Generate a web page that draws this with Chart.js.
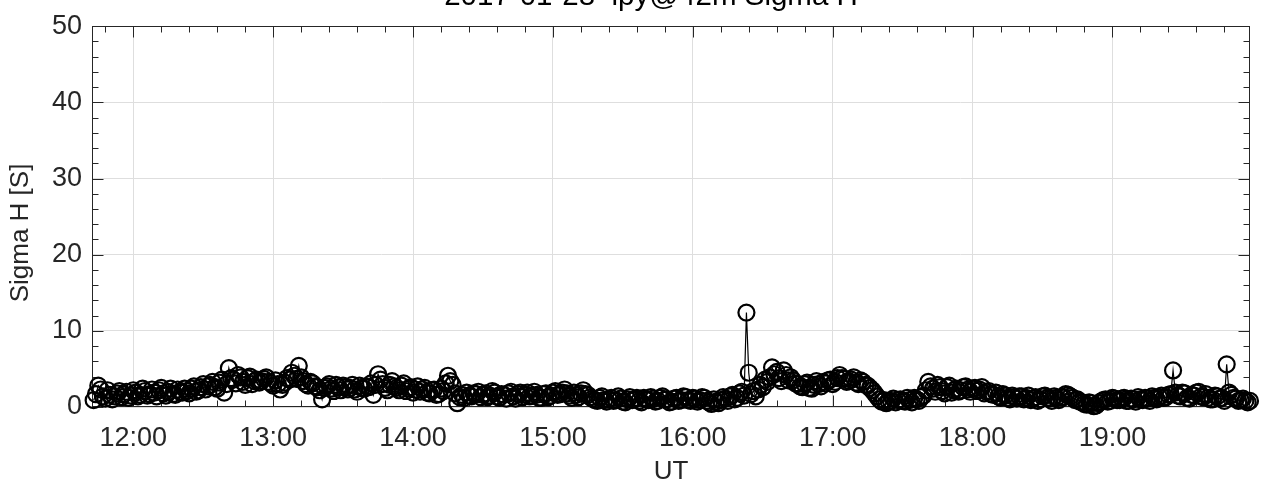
<!DOCTYPE html>
<html><head><meta charset="utf-8">
<script src="https://cdn.jsdelivr.net/npm/chart.js@4.4.0/dist/chart.umd.min.js"></script>
<style>html,body{margin:0;padding:0;background:#fff;}#wrap{width:1261px;height:493px;}</style>
</head><body><div id="wrap"><canvas id="c" width="1261" height="493"></canvas></div>
<script>
const chartTitle = '2017-01-28  lpy@42m Sigma H';
const xAxisLabel = 'UT';
const yAxisLabel = 'Sigma H [S]';

// sampling: first sample 11:43 UT, one sample per minute (minutes since 00:00 UT)
const startMinute = 703;
const sampleStepMinutes = 1;

// Sigma H [S] (20 samples per row = 20 minutes)
const sigmaH = [
  0.9, 1.7, 2.8, 2.3, 1.4, 1.1, 2.2, 1.6, 1.0, 1.4, 1.8, 2.1, 1.3, 1.7, 2.0, 1.2, 1.5, 2.2, 1.9, 1.4,
  1.6, 2.4, 2.1, 1.5, 1.7, 2.3, 1.9, 1.4, 2.2, 2.5, 1.8, 1.5, 2.0, 2.4, 1.7, 1.6, 2.3, 2.0, 1.9, 2.4,
  2.1, 1.8, 2.4, 2.7, 2.0, 2.2, 2.6, 3.0, 2.3, 2.7, 2.9, 3.3, 2.6, 2.4, 3.2, 3.6, 1.9, 3.0, 5.1, 3.8,
  3.6, 3.1, 4.2, 3.9, 3.3, 2.9, 3.8, 4.0, 3.0, 3.4, 3.6, 3.2, 3.4, 3.7, 3.9, 3.3, 3.1, 2.8, 3.5, 3.0,
  2.3, 2.9, 3.2, 3.8, 3.6, 4.5, 4.1, 3.7, 5.4, 3.9, 3.4, 3.0, 2.8, 3.3, 3.1, 2.7, 2.6, 2.2, 1.0, 2.5,
  2.7, 3.0, 2.4, 2.1, 2.9, 2.6, 2.2, 2.8, 2.6, 2.3, 2.5, 2.9, 2.3, 2.0, 2.8, 2.5, 2.4, 2.7, 2.6, 3.1,
  1.6, 2.9, 4.3, 3.6, 3.0, 2.5, 2.2, 2.9, 3.4, 2.7, 2.5, 2.2, 2.8, 3.1, 2.1, 2.4, 2.6, 1.9, 2.3, 2.7,
  2.0, 2.3, 2.5, 1.9, 1.8, 2.2, 2.3, 1.6, 1.7, 2.4, 2.1, 3.1, 4.1, 3.4, 2.9, 1.8, 0.5, 1.3, 1.6, 1.2,
  1.9, 1.5, 1.4, 1.8, 1.7, 2.0, 1.3, 1.6, 1.8, 1.3, 1.5, 2.1, 1.9, 1.4, 1.2, 1.7, 1.6, 1.1, 1.8, 2.0,
  1.4, 1.1, 1.7, 1.9, 1.3, 1.6, 1.9, 1.4, 1.5, 2.0, 1.6, 1.2, 1.2, 1.7, 1.8, 1.3, 1.5, 1.9, 2.1, 1.6,
  1.7, 1.9, 2.3, 1.8, 1.5, 1.2, 1.9, 1.6, 1.3, 1.8, 2.2, 1.7, 1.6, 1.3, 1.1, 0.9, 0.8, 1.2, 1.4, 0.9,
  0.7, 1.0, 1.2, 0.8, 0.9, 1.4, 1.1, 0.7, 0.6, 1.0, 1.3, 0.9, 1.0, 1.2, 0.8, 0.6, 1.2, 1.0, 0.9, 1.3,
  1.1, 0.7, 0.8, 1.2, 1.4, 1.0, 1.0, 0.6, 0.7, 1.1, 1.2, 0.8, 0.9, 1.4, 1.3, 0.9, 0.8, 1.2, 1.1, 0.7,
  0.9, 1.3, 1.2, 0.8, 0.6, 0.4, 1.0, 0.7, 0.5, 0.9, 1.3, 1.1, 0.8, 1.4, 1.6, 1.0, 1.2, 1.8, 2.0, 1.5,
  12.4, 4.5, 1.7, 2.1, 1.4, 2.3, 2.9, 2.6, 3.6, 3.3, 3.9, 5.2, 4.3, 4.6, 3.8, 3.4, 4.8, 4.2, 3.5, 3.9,
  3.5, 3.1, 3.0, 2.7, 2.6, 3.0, 3.2, 2.5, 2.4, 2.9, 3.4, 3.0, 2.7, 3.3, 3.1, 3.5, 3.6, 3.0, 3.3, 3.8,
  4.2, 3.8, 3.7, 3.3, 3.4, 3.6, 3.9, 3.2, 3.0, 3.5, 3.3, 2.9, 2.8, 2.5, 2.2, 1.8, 1.4, 1.0, 0.7, 0.9,
  0.5, 0.7, 0.8, 1.1, 0.6, 0.9, 1.0, 0.8, 0.7, 1.2, 0.9, 0.6, 1.2, 1.0, 0.8, 1.3, 1.5, 2.2, 3.3, 2.7,
  2.4, 2.0, 2.9, 2.6, 2.1, 1.8, 2.6, 2.8, 1.9, 2.2, 2.4, 2.0, 2.2, 2.6, 2.7, 2.3, 2.0, 2.4, 2.5, 2.1,
  2.3, 2.6, 1.8, 2.0, 2.1, 1.7, 1.6, 1.9, 1.4, 1.2, 1.7, 1.5, 1.2, 1.0, 1.5, 1.3, 1.1, 1.4, 1.4, 1.0,
  1.2, 1.5, 0.9, 1.1, 1.3, 0.8, 1.0, 1.4, 1.5, 1.2, 1.1, 0.8, 1.4, 1.2, 0.9, 1.3, 1.3, 1.7, 1.6, 1.4,
  1.2, 0.9, 1.0, 0.7, 0.6, 0.4, 0.3, 0.6, 0.5, 0.1, 0.2, 0.5, 0.7, 0.9, 1.0, 0.7, 0.8, 1.2, 1.1, 0.9,
  0.9, 1.1, 1.2, 0.8, 0.8, 1.1, 1.0, 0.7, 1.3, 1.0, 0.9, 1.2, 1.1, 0.8, 1.4, 1.2, 1.0, 1.3, 1.5, 1.2,
  1.3, 1.6, 1.7, 4.8, 1.9, 1.5, 1.4, 1.9, 1.8, 1.2, 1.1, 1.6, 1.5, 1.9, 2.0, 1.4, 1.3, 1.7, 1.2, 1.0,
  1.0, 1.5, 1.4, 1.1, 1.2, 0.8, 5.6, 1.9, 1.6, 1.2, 1.1, 0.8, 0.9, 1.1, 0.8, 0.6, 0.8
];

const xRange = [702.3, 1199];
const yRange = [0, 50];
const xMajorTicks = [720, 780, 840, 900, 960, 1020, 1080, 1140];
const xMinorTicks = [708, 732, 744, 756, 768, 792, 804, 816, 828, 852, 864, 876, 888,
  912, 924, 936, 948, 972, 984, 996, 1008, 1032, 1044, 1056, 1068, 1092, 1104, 1116, 1128,
  1152, 1164, 1176, 1188];
const yMajorTicks = [0, 10, 20, 30, 40, 50];
const yMinorTicks = [2, 4, 6, 8, 12, 14, 16, 18, 22, 24, 26, 28, 32, 34, 36, 38, 42, 44, 46, 48];

const FONT = 'Liberation Sans, Arial, Helvetica, sans-serif';
const TXT = '#262626';
const GRID = '#dedede';

function fmtTime(v) {
  const h = Math.floor(v / 60), m = Math.round(v % 60);
  return h + ':' + String(m).padStart(2, '0');
}

const points = sigmaH.map((v, i) => ({ x: startMinute + i * sampleStepMinutes, y: v }));

const axesBox = {
  id: 'axesBox',
  beforeDatasetsDraw(chart) {
    const { ctx, chartArea: a, scales: { x, y } } = chart;
    ctx.save();
    ctx.strokeStyle = TXT;
    ctx.lineWidth = 1;
    const L = Math.round(a.left) + 0.5, R = Math.round(a.right) - 0.5;
    const T = Math.round(a.top) + 0.5, B = Math.round(a.bottom) - 0.5;
    const major = 11, minor = 6;
    ctx.beginPath();
    const xt = (v, len) => {
      const px = Math.round(x.getPixelForValue(v)) + 0.5;
      ctx.moveTo(px, B); ctx.lineTo(px, B - len);
      ctx.moveTo(px, T); ctx.lineTo(px, T + len);
    };
    const yt = (v, len) => {
      const py = Math.round(y.getPixelForValue(v)) + 0.5;
      ctx.moveTo(L, py); ctx.lineTo(L + len, py);
      ctx.moveTo(R, py); ctx.lineTo(R - len, py);
    };
    xMajorTicks.forEach(v => xt(v, major));
    xMinorTicks.forEach(v => xt(v, minor));
    yMajorTicks.forEach(v => yt(v, major));
    yMinorTicks.forEach(v => yt(v, minor));
    ctx.stroke();
    ctx.strokeRect(L, T, R - L, B - T);
    ctx.restore();
  },
  afterDraw(chart) {
    const { ctx } = chart;
    ctx.save();
    ctx.fillStyle = '#000';
    ctx.font = '29.5px ' + FONT;
    ctx.textAlign = 'center';
    ctx.textBaseline = 'alphabetic';
    ctx.fillText(chartTitle, 651, 5);
    ctx.fillStyle = TXT;
    ctx.font = '26px ' + FONT;
    ctx.translate(21, 233);
    ctx.rotate(-Math.PI / 2);
    ctx.textBaseline = 'middle';
    ctx.fillText(yAxisLabel, 0, 0);
    ctx.restore();
  }
};

new Chart(document.getElementById('c'), {
  type: 'line',
  data: {
    datasets: [{
      data: points,
      borderColor: '#000',
      borderWidth: 1.2,
      pointRadius: 8,
      pointHoverRadius: 8,
      pointBorderWidth: 2.2,
      pointBorderColor: '#000',
      pointBackgroundColor: 'rgba(0,0,0,0)',
      tension: 0,
      clip: false
    }]
  },
  options: {
    responsive: false,
    animation: false,
    devicePixelRatio: 1,
    layout: { padding: { top: 23, right: 11, left: 0, bottom: 0 } },
    plugins: { legend: { display: false }, tooltip: { enabled: false }, title: { display: false } },
    events: [],
    scales: {
      x: {
        type: 'linear',
        min: xRange[0], max: xRange[1],
        afterBuildTicks: s => { s.ticks = xMajorTicks.map(v => ({ value: v })); },
        afterFit: s => { s.height = 86; },
        ticks: { callback: v => fmtTime(v), font: { family: FONT, size: 27 }, color: TXT, padding: 15, maxRotation: 0, autoSkip: false },
        grid: { color: GRID, lineWidth: 1, drawTicks: false },
        border: { display: false },
        title: { display: true, text: xAxisLabel, color: TXT, font: { family: FONT, size: 26 }, padding: { top: 0, bottom: 6 } }
      },
      y: {
        min: yRange[0], max: yRange[1],
        afterBuildTicks: s => { s.ticks = yMajorTicks.map(v => ({ value: v })); },
        afterFit: s => { s.width = 92; },
        ticks: { font: { family: FONT, size: 27 }, color: TXT, padding: 10, autoSkip: false },
        grid: { color: GRID, lineWidth: 1, drawTicks: false },
        border: { display: false },
        title: { display: false }
      }
    }
  },
  plugins: [axesBox]
});
</script>
</body></html>
